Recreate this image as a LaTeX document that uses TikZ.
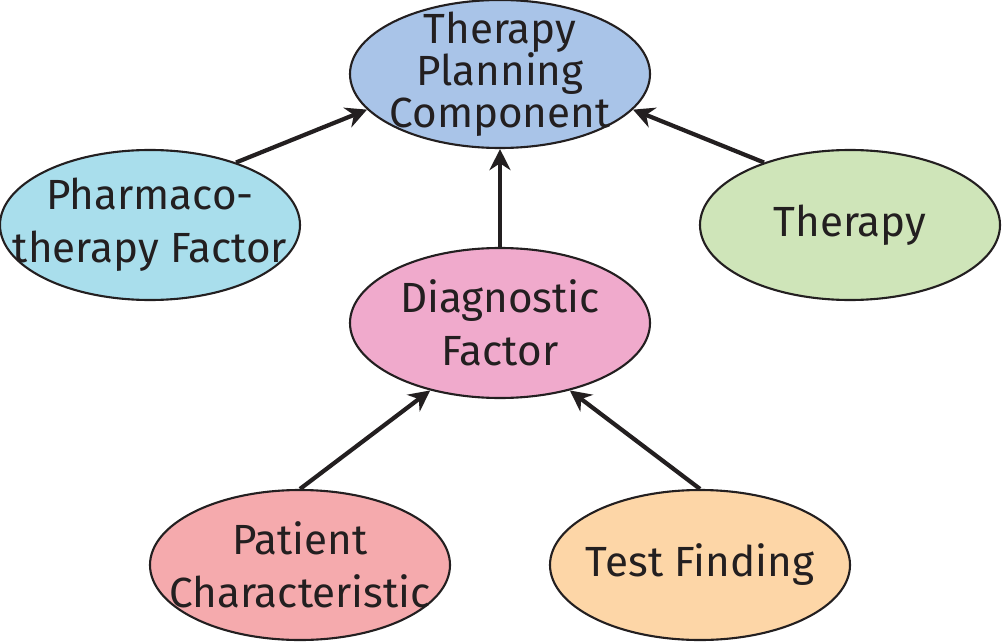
\documentclass[tikz,border=0pt]{standalone}
\usepackage{fontspec}
\setmainfont{Fira Sans}
\usepackage{xcolor}
\usetikzlibrary{arrows.meta,shapes.geometric}
\definecolor{planblue}{HTML}{A9C4E8}
\definecolor{pharmcyan}{HTML}{A9DEEC}
\definecolor{therapygreen}{HTML}{CFE5B9}
\definecolor{diagpink}{HTML}{F0AACC}
\definecolor{patientred}{HTML}{F5AAAD}
\definecolor{testorange}{HTML}{FDD6A7}
\definecolor{ink}{HTML}{231F20}

\begin{document}
\begin{tikzpicture}[
  factor/.style={ellipse, draw=ink, line width=0.6pt, minimum width=3cm, minimum height=1.5cm,
    inner xsep=-0.35cm, inner ysep=-0.15cm, align=center, text=ink, font=\fontsize{12}{15}\selectfont},
  link/.style={draw=ink, line width=1.2pt, -{Stealth[length=6pt,width=6pt]}}]
  \useasboundingbox (0,0) rectangle (10.02,-6.41);

  \node[factor, fill=planblue, minimum height=1.48cm, font=\fontsize{12}{12}\selectfont] (planning) at (5, -0.74) {Therapy\\Planning\\Component};
  \node[factor, fill=pharmcyan] (pharma) at (1.5, -2.25) {Pharmaco-\\therapy Factor};
  \node[factor, fill=therapygreen] (therapy) at (8.5, -2.25) {Therapy};
  \node[factor, fill=diagpink] (diag) at (5, -3.23) {Diagnostic\\Factor};
  \node[factor, fill=patientred] (patient) at (3, -5.65) {Patient\\Characteristic};
  \node[factor, fill=testorange] (test) at (7, -5.65) {Test Finding};

  \draw[link] (pharma.36) -- (planning.195);
  \draw[link] (therapy.144) -- (planning.345);
  \draw[link] (diag.north) -- (planning.south);
  \draw[link] (patient.north) -- (diag.224);
  \draw[link] (test.north) -- (diag.316);
\end{tikzpicture}
\end{document}
